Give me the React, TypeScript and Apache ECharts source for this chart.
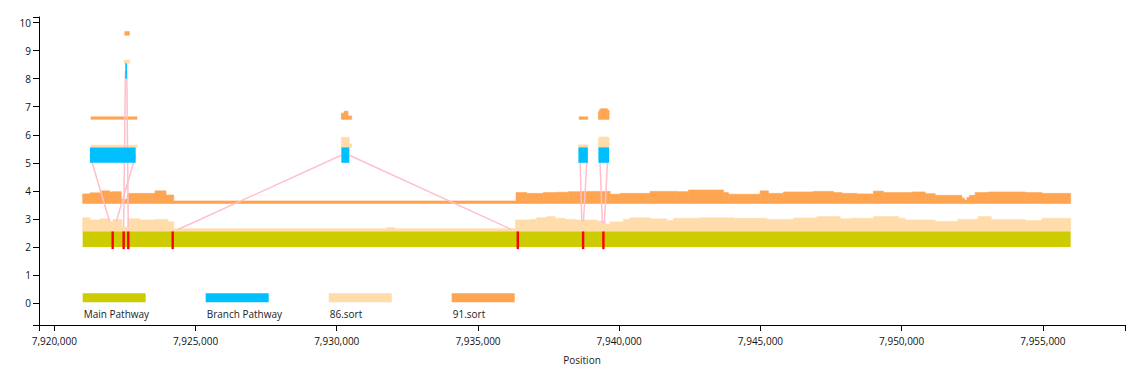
import React, { useEffect, useRef } from "react";
import * as echarts from "echarts";

// ---------- data ----------
const xTicks = [7920000, 7925000, 7930000, 7935000, 7940000, 7945000, 7950000, 7955000];
const yTicks = [0, 1, 2, 3, 4, 5, 6, 7, 8, 9, 10];

const legendLabels = ["Main Pathway", "Branch Pathway", "86.sort", "91.sort"];

// pathway blocks: [start, end, level]
const mainPathway = [[7921006, 7955981, 2]];
const branchPathway = [
  [7921264, 7922882, 5],
  [7930163, 7930446, 5],
  [7938555, 7938889, 5],
  [7939263, 7939642, 5],
  [7922514, 7922574, 8],
];

// splice sites on the main pathway: [position, level]
const junctionSites = [
  [7922068, 2],
  [7922457, 2],
  [7922620, 2],
  [7924193, 2],
  [7936409, 2],
  [7938722, 2],
  [7939440, 2],
];

// junction links: [x1, y1, x2, y2]
const junctionLinks = [
  [7921264, 5.27, 7921962, 2.9],
  [7922882, 5.27, 7922195, 2.9],
  [7922457, 2.7, 7922520, 8.27],
  [7922620, 2.7, 7922568, 8.27],
  [7924380, 2.62, 7930163, 5.27],
  [7930446, 5.27, 7936171, 2.63],
  [7938610, 5.27, 7938676, 2.9],
  [7938868, 5.27, 7938733, 2.9],
  [7939310, 5.27, 7939405, 2.85],
  [7939595, 5.27, 7939476, 2.85],
];

// coverage steps: [position, top]  (top null = end of a run)
const cov86Main = [
  [7921006, 3.04], [7921264, 2.96], [7921618, 3.0], [7921972, 2.9], [7922079, 2.98],
  [7922400, 2.7], [7922600, 3.0], [7923035, 2.96], [7923566, 2.98], [7924026, 2.9],
  [7924228, 2.65], [7931770, 2.69], [7932064, 2.65],
  [7936330, 2.96], [7936845, 2.98], [7937082, 3.04], [7937436, 3.08], [7937730, 3.02],
  [7938084, 2.98], [7938498, 2.96], [7939206, 2.92], [7939500, 2.81], [7939679, 2.89],
  [7940148, 2.98], [7940385, 3.04], [7941095, 3.0], [7941685, 2.94], [7941919, 3.02],
  [7942864, 3.04], [7944043, 3.02], [7945226, 2.98], [7946168, 3.03], [7946997, 3.08],
  [7947822, 3.0], [7948177, 3.02], [7949001, 3.08], [7949900, 3.02], [7950121, 2.96],
  [7951186, 2.91], [7951992, 2.98], [7952700, 3.08], [7953174, 2.98], [7954373, 2.94],
  [7954964, 3.02], [7955981, null],
];
const cov91Main = [
  [7921006, 3.89], [7921264, 3.93], [7921664, 4.0], [7921962, 3.96], [7922079, 3.97],
  [7922372, 3.7], [7922585, 3.91], [7923566, 4.0], [7923955, 3.85], [7924228, 3.64],
  [7936348, 3.94], [7936728, 3.91], [7937316, 3.94], [7937790, 3.95], [7938201, 3.97],
  [7938616, 3.98], [7939679, 3.88], [7940033, 3.91], [7941095, 3.98], [7942039, 3.97],
  [7942450, 4.03], [7943689, 3.94], [7943866, 3.88], [7944989, 4.0], [7945283, 3.91],
  [7945814, 3.96], [7946876, 3.98], [7947584, 3.94], [7947882, 3.91], [7948413, 3.89],
  [7949001, 3.99], [7949355, 3.94], [7950361, 3.96], [7950832, 3.9], [7951186, 3.84],
  [7952131, 3.74], [7952220, 3.67], [7952308, 3.76], [7952400, 3.84], [7952602, 3.94],
  [7953073, 3.96], [7954373, 3.94], [7954964, 3.91], [7955981, null],
];
const cov86Branch = [
  [7921300, 5.63], [7922928, null],
  [7930163, 5.91], [7930446, 5.67], [7930531, null],
  [7938555, 5.64], [7938889, null],
  [7939263, 5.86], [7939300, 5.92], [7939600, 5.9], [7939642, null],
];
const cov91Branch = [
  [7921300, 6.64], [7922928, null],
  [7930163, 6.77], [7930260, 6.84], [7930400, 6.67], [7930531, null],
  [7938580, 6.64], [7938889, null],
  [7939263, 6.82], [7939300, 6.9], [7939350, 6.93], [7939580, 6.88], [7939642, null],
];
const cov86Branch2 = [[7922479, 8.67], [7922670, null]];
const cov91Branch2 = [[7922497, 9.68], [7922660, null]];

// ---------- helpers ----------
const PATH_H = 0.55;
const COLORS = {
  main: "#cccc00",
  branch: "#00bfff",
  s86: "#ffdcaa",
  s91: "#fea552",
  link: "#ffc0cb",
  site: "#ff0000",
};
const FONT = "'Open Sans', 'Noto Sans', sans-serif";

function stepsToRects(steps: (number | null)[][], base: number) {
  const out: number[][] = [];
  for (let i = 0; i < steps.length - 1; i++) {
    const s = steps[i][0] as number;
    const top = steps[i][1];
    if (top == null) continue;
    out.push([s, steps[i + 1][0] as number, base, top]);
  }
  return out;
}

const rectRender = (color: string) => (params: any, api: any) => {
  const p0 = api.coord([api.value(0), api.value(3)]);
  const p1 = api.coord([api.value(1), api.value(2)]);
  return {
    type: "rect",
    shape: { x: p0[0], y: p0[1], width: p1[0] - p0[0], height: p1[1] - p0[1] },
    style: { fill: color, stroke: color, lineWidth: 0.6 },
  };
};

const pathRender = (color: string) => (params: any, api: any) => {
  const lvl = api.value(2);
  const p0 = api.coord([api.value(0), lvl + PATH_H]);
  const p1 = api.coord([api.value(1), lvl]);
  return {
    type: "rect",
    shape: { x: p0[0], y: p0[1], width: p1[0] - p0[0], height: p1[1] - p0[1] },
    style: { fill: color },
  };
};

const X_MIN = 7919460;
const X_MAX = 7957905;
const Y_MIN = -0.785;
const Y_MAX = 10.2;

export default function App() {
  const ref = useRef<HTMLDivElement>(null);

  useEffect(() => {
    if (!ref.current) return;
    const chart = echarts.init(ref.current, undefined, { renderer: "svg" });

    const coverageSeries = [
      { name: "86.sort", data: stepsToRects(cov86Main, 2 + PATH_H), color: COLORS.s86 },
      { name: "91.sort", data: stepsToRects(cov91Main, 3 + PATH_H), color: COLORS.s91 },
      { name: "86.sort branch", data: stepsToRects(cov86Branch, 5 + PATH_H), color: COLORS.s86 },
      { name: "91.sort branch", data: stepsToRects(cov91Branch, 6 + PATH_H), color: COLORS.s91 },
      { name: "86.sort branch2", data: stepsToRects(cov86Branch2, 8 + PATH_H), color: COLORS.s86 },
      { name: "91.sort branch2", data: stepsToRects(cov91Branch2, 9 + PATH_H), color: COLORS.s91 },
    ].map((s) => ({
      type: "custom",
      name: s.name,
      z: 2,
      silent: true,
      encode: { x: [0, 1], y: [2, 3] },
      renderItem: rectRender(s.color),
      data: s.data,
    }));

    const legendGraphics: any[] = [];
    const legendColors = [COLORS.main, COLORS.branch, COLORS.s86, COLORS.s91];
    legendLabels.forEach((label, i) => {
      const x = 82.7 + i * 123;
      legendGraphics.push({
        type: "rect",
        left: x,
        top: 293.3,
        shape: { width: 63, height: 9 },
        style: { fill: legendColors[i] },
      });
      legendGraphics.push({
        type: "text",
        x: x + 1,
        y: 313.5,
        style: {
          text: label,
          fill: "#222",
          font: `10px ${FONT}`,
          textAlign: "left",
          textVerticalAlign: "middle",
        },
      });
    });
    legendGraphics.push({
      type: "text",
      x: 582,
      y: 360,
      style: {
        text: "Position",
        fill: "#222",
        font: `10px ${FONT}`,
        textAlign: "center",
        textVerticalAlign: "middle",
      },
    });

    chart.setOption({
      animation: false,
      backgroundColor: "#ffffff",
      grid: { left: 39, right: 10, top: 17, bottom: 45, containLabel: false, outerBoundsMode: "none" },
      xAxis: {
        type: "value",
        min: X_MIN,
        max: X_MAX,
        splitLine: { show: false },
        axisLine: { show: true, onZero: false, lineStyle: { color: "#000", width: 1 } },
        axisTick: {
          show: true,
          length: 6,
          customValues: [X_MIN, ...xTicks, X_MAX],
          lineStyle: { color: "#000", width: 1 },
        },
        axisLabel: {
          customValues: xTicks,
          formatter: (v: number) => v.toLocaleString("en-US"),
          fontSize: 10,
          fontFamily: FONT,
          color: "#111",
          margin: 11,
        },
      },
      yAxis: {
        type: "value",
        min: Y_MIN,
        max: Y_MAX,
        splitLine: { show: false },
        axisLine: { show: true, onZero: false, lineStyle: { color: "#000", width: 1 } },
        axisTick: {
          show: true,
          length: 6,
          customValues: [Y_MIN, ...yTicks, Y_MAX],
          lineStyle: { color: "#000", width: 1 },
        },
        axisLabel: {
          customValues: yTicks,
          fontSize: 10,
          fontFamily: FONT,
          color: "#111",
          margin: 8,
        },
      },
      graphic: legendGraphics,
      series: [
        ...coverageSeries,
        {
          type: "custom",
          name: "junctions",
          z: 3,
          silent: true,
          encode: { x: [0, 2], y: [1, 3] },
          renderItem: (params: any, api: any) => {
            const a = api.coord([api.value(0), api.value(1)]);
            const b = api.coord([api.value(2), api.value(3)]);
            return {
              type: "line",
              shape: { x1: a[0], y1: a[1], x2: b[0], y2: b[1] },
              style: { stroke: COLORS.link, lineWidth: 1.5 },
            };
          },
          data: junctionLinks,
        },
        {
          type: "custom",
          name: "Main Pathway",
          z: 4,
          silent: true,
          encode: { x: [0, 1], y: 2 },
          renderItem: pathRender(COLORS.main),
          data: mainPathway,
        },
        {
          type: "custom",
          name: "Branch Pathway",
          z: 4,
          silent: true,
          encode: { x: [0, 1], y: 2 },
          renderItem: pathRender(COLORS.branch),
          data: branchPathway,
        },
        {
          type: "custom",
          name: "sites",
          z: 5,
          silent: true,
          encode: { x: 0, y: 1 },
          renderItem: (params: any, api: any) => {
            const lvl = api.value(1);
            const top = api.coord([api.value(0), lvl + PATH_H]);
            const bot = api.coord([api.value(0), lvl - 0.08]);
            return {
              type: "rect",
              shape: { x: top[0] - 1.2, y: top[1], width: 2.4, height: bot[1] - top[1] },
              style: { fill: COLORS.site },
            };
          },
          data: junctionSites,
        },
      ],
    });

    return () => chart.dispose();
  }, []);

  return (
    <div
      ref={ref}
      style={{ position: "absolute", left: 0, top: 0, width: 1135, height: 370, background: "#fff" }}
    />
  );
}
